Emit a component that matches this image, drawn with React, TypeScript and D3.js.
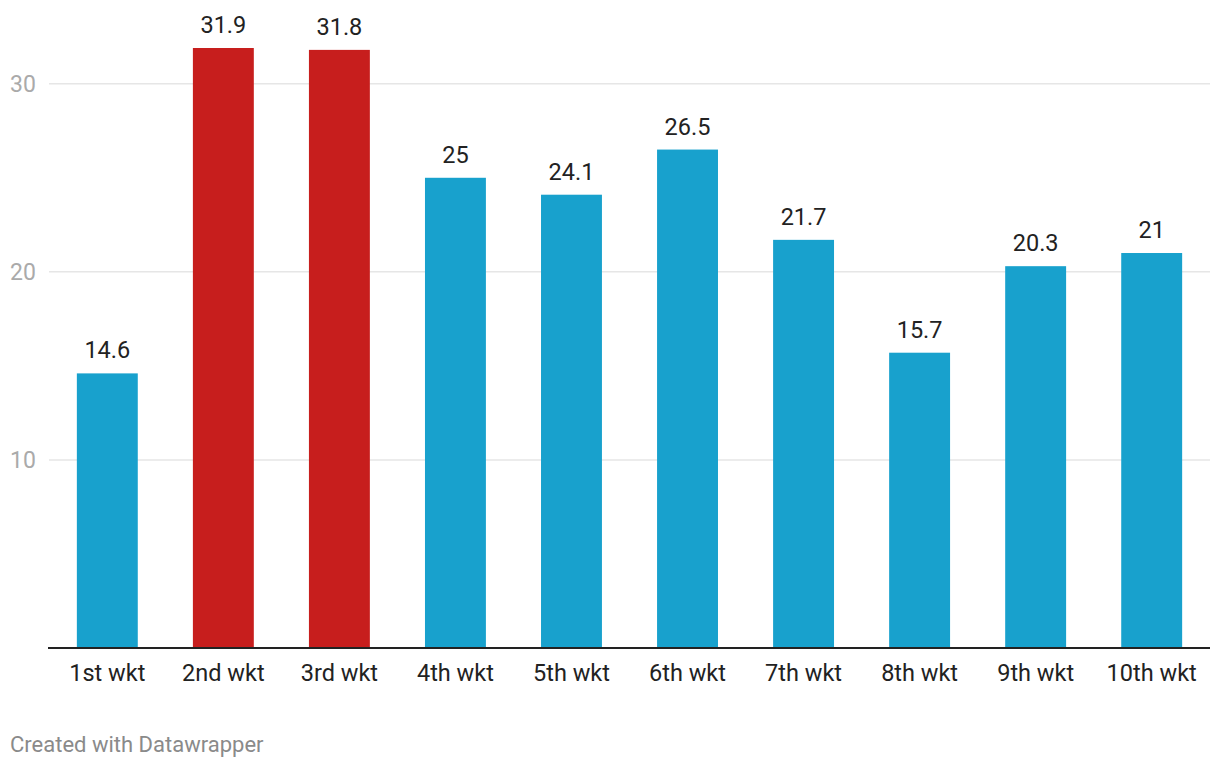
import React from "react";
import * as d3 from "d3";

const categories = ["1st wkt", "2nd wkt", "3rd wkt", "4th wkt", "5th wkt", "6th wkt", "7th wkt", "8th wkt", "9th wkt", "10th wkt"];
const values = [14.6, 31.9, 31.8, 25, 24.1, 26.5, 21.7, 15.7, 20.3, 21];
const highlighted = ["2nd wkt", "3rd wkt"];
const yTicks = [10, 20, 30];

const width = 1220;
const height = 768;
const left = 49;
const right = 1210;
const top = 48;
const bottom = 648;

const App: React.FC = () => {
  const x = d3.scaleBand<string>().domain(categories).range([left, right]).paddingInner(0.475).paddingOuter(0.24);
  const y = d3.scaleLinear().domain([0, 31.9]).range([bottom, top]);
  const font = "Roboto, sans-serif";

  return (
    <svg width={width} height={height} style={{ position: "absolute", left: 0, top: 0, fontFamily: font }}>
      {yTicks.map((t) => (
        <g key={t}>
          <line x1={left} x2={right} y1={y(t)} y2={y(t)} stroke="#e6e6e6" strokeWidth={1.5} />
          <text x={10} y={y(t)} dy="0.35em" fontSize={23} fill="#aaaaaa">
            {t}
          </text>
        </g>
      ))}
      {categories.map((c, i) => (
        <g key={c}>
          <rect
            x={x(c)}
            y={y(values[i])}
            width={x.bandwidth()}
            height={bottom - y(values[i])}
            fill={highlighted.includes(c) ? "#c71e1d" : "#18a1cd"}
          />
          <text x={(x(c) ?? 0) + x.bandwidth() / 2} y={y(values[i]) - 15} textAnchor="middle" fontSize={23.5} fill="#222">
            {values[i]}
          </text>
          <text x={(x(c) ?? 0) + x.bandwidth() / 2} y={681} textAnchor="middle" fontSize={23.5} fill="#222">
            {c}
          </text>
        </g>
      ))}
      <line x1={48} x2={right} y1={bottom} y2={bottom} stroke="#222" strokeWidth={2} />
      <text x={10} y={752} fontSize={22} fill="#8a8a8a">
        Created with Datawrapper
      </text>
    </svg>
  );
};

export default App;
